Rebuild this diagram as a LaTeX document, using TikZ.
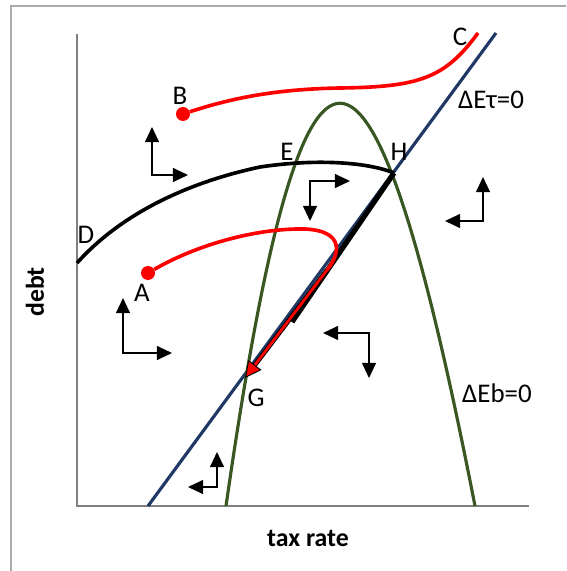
\documentclass[tikz,border=0pt]{standalone}
\usepackage{fontspec}
\setmainfont{Carlito}
\usetikzlibrary{arrows.meta}
\definecolor{taublue}{RGB}{31,56,100}
\definecolor{bgreen}{RGB}{56,87,35}
\definecolor{axisgray}{RGB}{128,128,128}
\definecolor{framegray}{RGB}{170,170,170}

\begin{document}
\begin{tikzpicture}[
    x=0.03cm, y=-0.03cm,
    lbl/.style={font=\fontsize{23}{27}\selectfont, inner sep=0pt},
    axlbl/.style={font=\fontsize{22}{26}\selectfont\bfseries, inner sep=0pt},
    curve/.style={line width=3.1pt},
    dot/.style={circle, fill=red, inner sep=0pt, minimum size=0.42cm},
    vec/.style={line width=1.2pt, {Triangle[length=13pt,width=12pt]}-{Triangle[length=13pt,width=12pt]}},
]
    \useasboundingbox (0,0) rectangle (566,571);
    % frame and axes
    \draw[framegray, line width=1.2pt] (11,571) -- (11,6) -- (566,6);
    \coordinate (O) at (77,506);
    \coordinate (ytop) at (77,34);
    \coordinate (xend) at (529,506);
    \draw[axisgray, line width=1.6pt] (ytop) -- (O) -- (xend);
    \node[axlbl, rotate=90] (debt) at (35,292) {debt};
    \node[axlbl] (taxrate) at (308,538) {tax rate};

    % curves
    \coordinate (t0) at (148,506);
    \coordinate (t1) at (496,33);
    \coordinate (b0) at (226,506);
    \coordinate (b1) at (475,506);
    \coordinate (D) at (77,263);
    \coordinate (H) at (394,173);
    \coordinate (Cend) at (478,33);
    \coordinate (turn) at (327,270);
    \coordinate (Gtip) at (245,378);
    \coordinate (hend) at (292,322);

    \draw[taublue, line width=2.7pt] (t0) -- (t1);
    \draw[bgreen, line width=2.7pt] (b0) .. controls (303,-31) and (370,-31) .. (b1);
    \draw[curve] (D) .. controls (120,215) and (185,183) .. (260,167)
        .. controls (320,158) and (370,163) .. (H);
    \draw[line width=4.4pt] (H) -- (hend);

    \node[dot] (B) at (183,114) {};
    \node[dot] (A) at (148,273) {};
    \draw[red, curve] (B) .. controls (235,97) and (280,89) .. (340,88)
        .. controls (420,87) and (445,78) .. (Cend);
    \draw[line width=4pt, -{Triangle[length=14pt,width=14pt,fill=red,line width=0.8pt]}] (turn) -- (Gtip);
    \draw[red, line width=2.4pt, shorten >=14pt] (turn) -- (Gtip);
    \draw[red, curve] (A) .. controls (200,243) and (260,228) .. (305,229)
        .. controls (345,231) and (340,254) .. (turn);

    % labels
    \node[lbl] (Clbl) at (460,37) {C};
    \node[lbl] (Blbl) at (180,96) {B};
    \node[lbl] (Elbl) at (287,152) {E};
    \node[lbl] (Hlbl) at (399,152) {H};
    \node[lbl] (Dlbl) at (86,235) {D};
    \node[lbl] (Albl) at (142,293) {A};
    \node[lbl] (Glbl) at (256,398) {G};
    \node[lbl] (taulbl) at (491,100) {ΔEτ=0};
    \node[lbl] (blbl) at (497,393) {ΔEb=0};

    % direction arrows
    \foreach \cx/\cy/\hx/\vy in {152/175/188/127, 310/181/350/221, 483/221/445/177,
                                 123/353/172/298, 369/333/323/378, 217/487/188/452}
        \draw[vec] (\hx,\cy) -- (\cx,\cy) -- (\cx,\vy);
\end{tikzpicture}
\end{document}
